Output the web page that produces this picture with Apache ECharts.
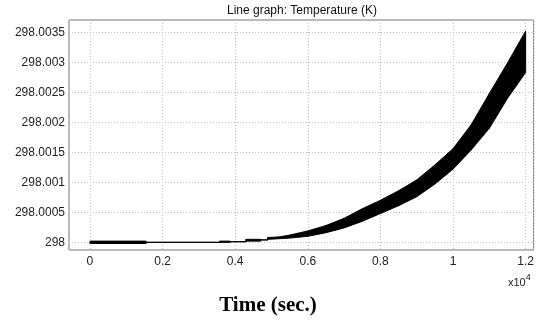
<!DOCTYPE html>
<html>
<head>
<meta charset="utf-8">
<script src="https://cdn.jsdelivr.net/npm/echarts@6/dist/echarts.min.js"></script>
<style>
  html, body { margin: 0; padding: 0; background: #fff; }
  #chart { width: 537px; height: 320px; }
</style>
</head>
<body>
<div id="chart"></div>
<script>
// time (s) and lower / upper edge of the temperature band (K)
var timeSec = [0, 1540, 1540, 3570, 3570, 3850, 3850, 4300, 4300, 4700, 4700, 4900, 4900, 5200,
  5500, 6000, 6500, 7000, 7500, 8000, 8500, 9000, 9500, 10000, 10500, 11000, 11500, 12000];
var lowerK = [297.99998, 297.99998, 298, 298, 298, 298, 298.00001, 298.00001, 298.00002, 298.00002,
  298.00004, 298.00004, 298.00005, 298.00006,
  298.00007, 298.00010, 298.00016, 298.00024, 298.00035, 298.00048, 298.00061, 298.00076,
  298.00097, 298.00122, 298.00154, 298.00190, 298.00240, 298.00283];
var upperK = [298.00002, 298.00002, 298, 298, 298.00002, 298.00002, 298.00001, 298.00001, 298.00005, 298.00005,
  298.00004, 298.00004, 298.00008, 298.00009,
  298.00012, 298.00019, 298.00028, 298.00040, 298.00056, 298.00070, 298.00086, 298.00104,
  298.00129, 298.00156, 298.00196, 298.00248, 298.00299, 298.00352];

var bandData = [];
for (var i = 0; i < timeSec.length; i++) {
  bandData.push([timeSec[i], lowerK[i], upperK[i]]);
}

var chart = echarts.init(document.getElementById('chart'));
var gridLine = { show: true, lineStyle: { color: '#bdbdbd', type: [1, 2], width: 1 } };

// one quad between neighbouring time steps, filled black
function renderBand(params, api) {
  var k = params.dataIndex;
  if (k >= timeSec.length - 1) return null;
  var p = [
    api.coord([timeSec[k], lowerK[k]]),
    api.coord([timeSec[k + 1], lowerK[k + 1]]),
    api.coord([timeSec[k + 1], upperK[k + 1]]),
    api.coord([timeSec[k], upperK[k]])
  ];
  return {
    type: 'polygon',
    shape: { points: p },
    style: { fill: '#000', stroke: '#000', lineWidth: 1 }
  };
}

chart.setOption({
  backgroundColor: '#fff',
  animation: false,
  grid: {
    left: 69, top: 20, width: 466, height: 230,
    show: true, borderColor: '#777', borderWidth: 1, backgroundColor: 'transparent'
  },
  xAxis: {
    type: 'value',
    min: -577, max: 12219,
    splitNumber: 6,
    axisLine: { show: false },
    axisTick: { show: false },
    splitLine: gridLine,
    axisLabel: {
      showMinLabel: false, showMaxLabel: false,
      margin: 6, fontSize: 12, color: '#222', fontFamily: 'Liberation Sans',
      formatter: function (v) { return String(+(v / 10000).toFixed(2)); }
    }
  },
  yAxis: {
    type: 'value',
    min: 297.999872, max: 298.003705,
    splitNumber: 8,
    axisLine: { show: false },
    axisTick: { show: false },
    splitLine: gridLine,
    axisLabel: {
      showMinLabel: false, showMaxLabel: false,
      margin: 4, fontSize: 12, color: '#222', fontFamily: 'Liberation Sans',
      formatter: function (v) { return String(+v.toFixed(4)); }
    }
  },
  graphic: [
    {
      type: 'text', x: 302, y: 11,
      style: {
        text: 'Line graph: Temperature (K)', fill: '#111',
        font: '12px "Liberation Sans"', textAlign: 'center', textVerticalAlign: 'middle'
      }
    },
    {
      type: 'text', x: 508, y: 271,
      style: {
        text: '{a|x10}{b|4}',
        rich: {
          a: { fontSize: 11, fontFamily: 'Liberation Sans', fill: '#222', padding: [6, 0, 0, 0] },
          b: { fontSize: 9, fontFamily: 'Liberation Sans', fill: '#222', padding: [0, 0, 4, 0] }
        }
      }
    },
    {
      type: 'text', x: 268, y: 306,
      style: {
        text: 'Time (sec.)', fill: '#000',
        font: 'bold 21px "Liberation Serif"', textAlign: 'center', textVerticalAlign: 'middle'
      }
    }
  ],
  series: [
    {
      name: 'Temperature', type: 'custom', data: bandData,
      encode: { x: 0, y: [1, 2] },
      renderItem: renderBand, z: 3
    }
  ]
});
</script>
</body>
</html>
